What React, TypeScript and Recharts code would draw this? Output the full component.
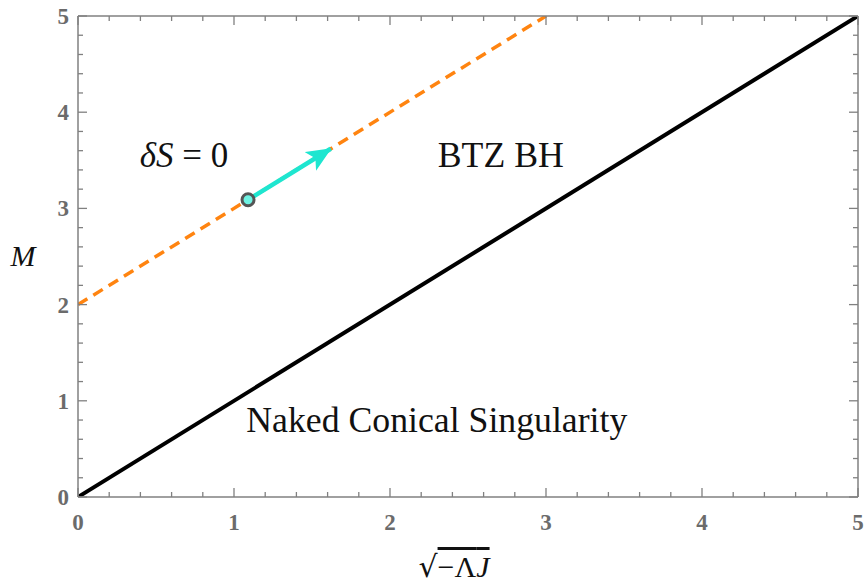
import { LineChart, Line, XAxis, YAxis, ReferenceDot } from 'recharts'

// axis ticks (minor every 0.2, labelled at integers)
const xTicks = [0, 0.2, 0.4, 0.6, 0.8, 1, 1.2, 1.4, 1.6, 1.8, 2, 2.2, 2.4, 2.6, 2.8, 3, 3.2, 3.4, 3.6, 3.8, 4, 4.2, 4.4, 4.6, 4.8, 5]
const yTicks = [0, 0.2, 0.4, 0.6, 0.8, 1, 1.2, 1.4, 1.6, 1.8, 2, 2.2, 2.4, 2.6, 2.8, 3, 3.2, 3.4, 3.6, 3.8, 4, 4.2, 4.4, 4.6, 4.8, 5]

// extremality bound M = sqrt(-Lambda) J
const extremalLine = [
  { j: 0, m: 0 },
  { j: 5, m: 5 },
]

// dS = 0 curve
const entropyLine = [
  { j: 0, m: 2 },
  { j: 3, m: 5 },
]

// flow arrow along the dS = 0 line
const flowArrow = [
  { j: 1.09, m: 3.09 },
  { j: 1.62, m: 3.62 },
]
const startPoint = { j: 1.09, m: 3.09 }

const regionLabels = [
  { j: 2.71, m: 3.43, text: 'BTZ BH', width: 126 },
  { j: 2.3, m: 0.68, text: 'Naked Conical Singularity', width: 381 },
]
const entropyLabel = { j: 0.68, m: 3.43 }

const axisGray = '#808080'
const labelGray = '#6b6b6b'
const serif = '"Liberation Serif", "DejaVu Serif", serif'

const isMajor = (v: number) => Math.abs(v - Math.round(v)) < 1e-6

const BottomTick = (props: any) => {
  const { x, y, payload } = props
  const major = isMajor(payload.value)
  return (
    <g>
      <line x1={x} y1={y} x2={x} y2={y - (major ? 9 : 5)} stroke={axisGray} strokeWidth={1.3} />
      {major && (
        <text x={x} y={y + 33} textAnchor="middle" fontFamily={serif} fontWeight="bold" fontSize={23} fill={labelGray}>
          {Math.round(payload.value)}
        </text>
      )}
    </g>
  )
}

const TopTick = (props: any) => {
  const { x, y, payload } = props
  const major = isMajor(payload.value)
  return <line x1={x} y1={y} x2={x} y2={y + (major ? 9 : 5)} stroke={axisGray} strokeWidth={1.3} />
}

const LeftTick = (props: any) => {
  const { x, y, payload } = props
  const major = isMajor(payload.value)
  return (
    <g>
      <line x1={x} y1={y} x2={x + (major ? 9 : 5)} y2={y} stroke={axisGray} strokeWidth={1.3} />
      {major && (
        <text x={x - 9} y={y + 8} textAnchor="end" fontFamily={serif} fontWeight="bold" fontSize={23} fill={labelGray}>
          {Math.round(payload.value)}
        </text>
      )}
    </g>
  )
}

const RightTick = (props: any) => {
  const { x, y, payload } = props
  const major = isMajor(payload.value)
  return <line x1={x} y1={y} x2={x - (major ? 9 : 5)} y2={y} stroke={axisGray} strokeWidth={1.3} />
}

const RegionText = ({ viewBox, text, width }: any) => {
  const cx = viewBox.x + viewBox.width / 2
  const cy = viewBox.y + viewBox.height / 2
  return (
    <text x={cx} y={cy} textAnchor="middle" fontFamily={serif} fontSize={35} fill="#111" textLength={width} lengthAdjust="spacingAndGlyphs">
      {text}
    </text>
  )
}

const EntropyText = ({ viewBox }: any) => {
  const cx = viewBox.x + viewBox.width / 2
  const cy = viewBox.y + viewBox.height / 2
  return (
    <text x={cx} y={cy} textAnchor="middle" fontFamily={serif} fontSize={35} fill="#111">
      <tspan fontStyle="italic">δS</tspan>
      <tspan> = 0</tspan>
    </text>
  )
}

const XLabel = ({ viewBox }: any) => {
  const cx = viewBox.x + viewBox.width / 2 - 14
  return (
    <text x={cx} y={viewBox.y + 80} textAnchor="middle" fontFamily={serif} fontSize={30} fill="#111">
      <tspan fontFamily='"DejaVu Serif", serif'>√</tspan>
      <tspan style={{ textDecoration: 'overline' }}>−Λ</tspan>
      <tspan fontStyle="italic" style={{ textDecoration: 'overline' }}>J</tspan>
    </text>
  )
}

const YLabel = ({ viewBox }: any) => (
  <text x={23} y={viewBox.y + viewBox.height / 2 + 9} textAnchor="middle" fontFamily={serif} fontStyle="italic" fontSize={30} fill="#111">
    M
  </text>
)

export default function App() {
  return (
    <div style={{ position: 'absolute', left: 0, top: 0, background: '#fff' }}>
      <LineChart width={865} height={583} margin={{ top: 15, right: 6, bottom: 0, left: 0 }}>
        <defs>
          <marker id="flowHead" markerUnits="userSpaceOnUse" markerWidth={30} markerHeight={24} refX={24} refY={11} orient="auto">
            <path d="M0,0 L25,11 L0,22 L6,11 Z" fill="#1ee6d0" />
          </marker>
        </defs>
        <XAxis
          xAxisId="b"
          type="number"
          dataKey="j"
          domain={[0, 5]}
          ticks={xTicks}
          interval={0}
          allowDataOverflow
          height={86}
          tickSize={0}
          tickMargin={0}
          tickLine={false}
          stroke={axisGray}
          strokeWidth={1.5}
          tick={<BottomTick />}
          label={<XLabel />}
        />
        <XAxis
          xAxisId="t"
          orientation="top"
          type="number"
          dataKey="j"
          domain={[0, 5]}
          ticks={xTicks}
          interval={0}
          allowDataOverflow
          height={1}
          tickSize={0}
          tickMargin={0}
          tickLine={false}
          stroke={axisGray}
          strokeWidth={1.5}
          tick={<TopTick />}
        />
        <YAxis
          yAxisId="l"
          type="number"
          dataKey="m"
          domain={[0, 5]}
          ticks={yTicks}
          interval={0}
          allowDataOverflow
          width={78}
          tickSize={0}
          tickMargin={0}
          tickLine={false}
          stroke={axisGray}
          strokeWidth={1.5}
          tick={<LeftTick />}
          label={<YLabel />}
        />
        <YAxis
          yAxisId="r"
          orientation="right"
          type="number"
          dataKey="m"
          domain={[0, 5]}
          ticks={yTicks}
          interval={0}
          allowDataOverflow
          width={1}
          tickSize={0}
          tickMargin={0}
          tickLine={false}
          stroke={axisGray}
          strokeWidth={1.5}
          tick={<RightTick />}
        />
        <Line
          xAxisId="b"
          yAxisId="l"
          data={entropyLine}
          dataKey="m"
          stroke="#ff8410"
          strokeWidth={3.5}
          strokeDasharray="11 7"
          dot={false}
          isAnimationActive={false}
        />
        <Line
          xAxisId="b"
          yAxisId="l"
          data={extremalLine}
          dataKey="m"
          stroke="#000"
          strokeWidth={4}
          dot={false}
          isAnimationActive={false}
        />
        <Line
          xAxisId="b"
          yAxisId="l"
          data={flowArrow}
          dataKey="m"
          stroke="#1ee6d0"
          strokeWidth={4.5}
          dot={false}
          markerEnd="url(#flowHead)"
          isAnimationActive={false}
        />
        <ReferenceDot
          xAxisId="b"
          yAxisId="l"
          x={startPoint.j}
          y={startPoint.m}
          r={6}
          fill="#6ff3e3"
          stroke="#555"
          strokeWidth={3}
        />
        {regionLabels.map((l) => (
          <ReferenceDot
            key={l.text}
            xAxisId="b"
            yAxisId="l"
            x={l.j}
            y={l.m}
            r={0}
            fill="none"
            stroke="none"
            label={<RegionText text={l.text} width={l.width} />}
          />
        ))}
        <ReferenceDot
          xAxisId="b"
          yAxisId="l"
          x={entropyLabel.j}
          y={entropyLabel.m}
          r={0}
          fill="none"
          stroke="none"
          label={<EntropyText />}
        />
      </LineChart>
    </div>
  )
}
